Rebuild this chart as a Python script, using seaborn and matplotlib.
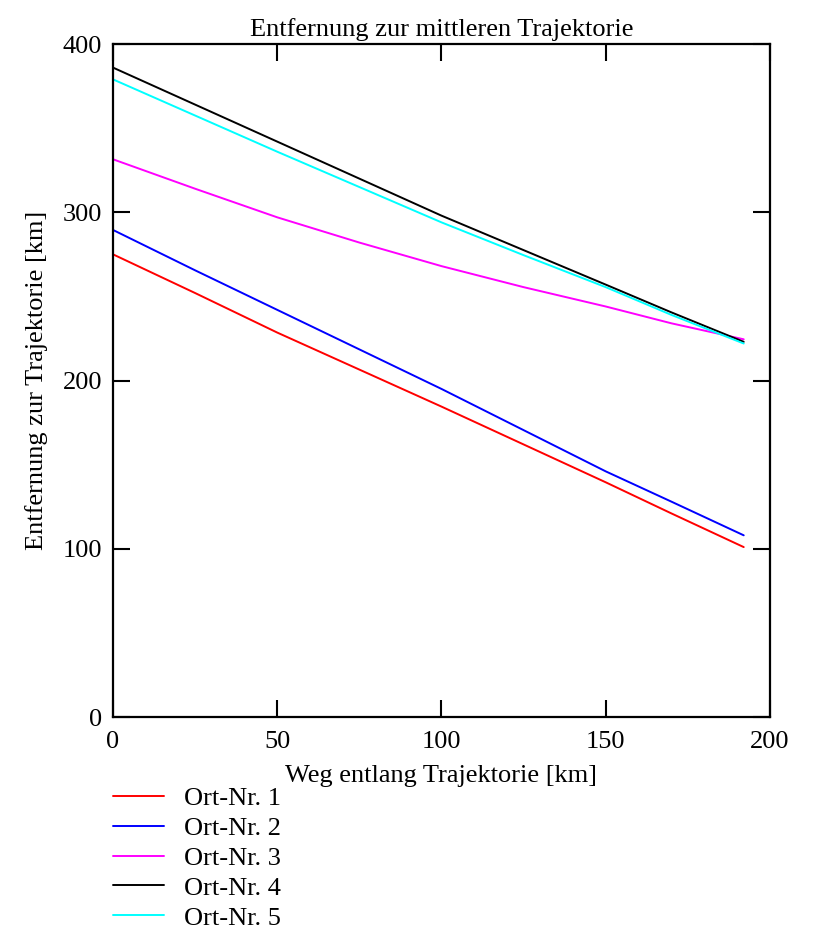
import matplotlib
matplotlib.use("Agg")
from matplotlib import pyplot as plt
import pandas as pd
import seaborn as sns

# values
weg = [0, 25, 50, 75, 100, 125, 150, 170, 192]
ort_namen = ["Ort-Nr. 1", "Ort-Nr. 2", "Ort-Nr. 3", "Ort-Nr. 4", "Ort-Nr. 5"]
ort1 = [275, 252, 228.5, 206.5, 184.5, 162, 139.5, 121, 101]
ort2 = [289.5, 265.5, 242, 218.5, 195, 170.5, 146, 128, 108]
ort3 = [331.5, 314, 297, 282, 268, 255.5, 244, 234, 224.5]
ort4 = [386, 364, 342, 320, 298, 277.5, 257, 240.5, 223]
ort5 = [379, 357.5, 336, 315, 294, 274.5, 255.5, 239, 222]
farben = ["#ff0000", "#0000ff", "#ff00ff", "#000000", "#00ffff"]

rows = []
for name, werte in zip(ort_namen, [ort1, ort2, ort3, ort4, ort5]):
    for x, y in zip(weg, werte):
        rows.append({"weg": x, "dist": y, "ort": name})
df = pd.DataFrame(rows)

sns.set_style("ticks")
plt.rcParams['font.family'] = ['Liberation Serif', 'DejaVu Serif']
plt.rcParams['text.color'] = 'black'
plt.rcParams['axes.labelcolor'] = 'black'

fig = plt.figure(figsize=(8.23, 9.33), dpi=100)
ax = fig.add_axes([0.1373, 0.2315, 0.7983, 0.7213])

sns.lineplot(data=df, x="weg", y="dist", hue="ort", palette=farben,
             hue_order=ort_namen, linewidth=1.4, ax=ax, legend=True)

ax.set_xlim(0, 200)
ax.set_ylim(0, 400)
ax.set_xticks([0, 50, 100, 150, 200])
ax.set_yticks([0, 100, 200, 300, 400])
ax.tick_params(direction='in', length=12, width=1.5, top=True, right=True,
               labelsize=19, colors='black')
ax.tick_params(axis='x', pad=10)
ax.tick_params(axis='y', pad=8)
for sp in ax.spines.values():
    sp.set_visible(True)
    sp.set_linewidth(1.6)
    sp.set_color('black')

ax.set_title("Entfernung zur mittleren Trajektorie", fontsize=19, pad=6,
             color='black')
ax.set_xlabel("Weg entlang Trajektorie [km]", fontsize=19, labelpad=9)
ax.set_ylabel("Entfernung zur Trajektorie [km]", fontsize=19, labelpad=10)

handles, labels = ax.get_legend_handles_labels()
ax.get_legend().remove()
leg = fig.legend(handles, labels, loc="upper left", bbox_to_anchor=(0.125, 0.168),
                 frameon=False, fontsize=19, handlelength=1.93, handletextpad=0.76,
                 labelspacing=0.24, borderaxespad=0)
for t in leg.get_texts():
    t.set_color('black')

fig.savefig("out.png", dpi=100)
